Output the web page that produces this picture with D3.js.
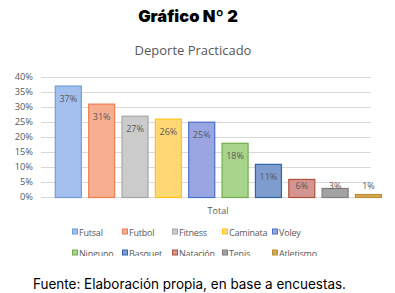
<!DOCTYPE html>
<html><head><meta charset="utf-8">
<script src="https://cdn.jsdelivr.net/npm/d3@7"></script>
<style>html,body{margin:0;padding:0;background:#fff;}svg{display:block;}</style>
</head><body>
<svg id="c" width="395" height="293"></svg>
<script>
const categories = ["Futsal","Futbol","Fitness","Caminata","Voley","Ninguno","Basquet","Natación","Tenis","Atletismo"];
const values = [37,31,27,26,25,18,11,6,3,1];
const fills = ["#a3bfee","#f7ae90","#cbcbcb","#ffd873","#9aa6e2","#a8d48c","#7f9ccf","#d49590","#a3a3a3","#cfa85a"];
const strokes = ["#6d9fdc","#ef7f4f","#a6a6a6","#ffc31a","#4a6fc6","#72ad4c","#2f66a8","#b0523e","#7e7e7e","#bf9030"];
const yTicks = [0,5,10,15,20,25,30,35,40];

const svg = d3.select("#c");
const x = d3.scaleBand().domain(categories).range([51.8, 385]).paddingInner(0.19).paddingOuter(0.09);
const y = d3.scaleLinear().domain([0,40]).range([197,76.5]);

svg.append("text").attr("x",188).attr("y",22).attr("text-anchor","middle")
  .attr("font-family","Inter").attr("font-weight",900).attr("font-size",16.5).attr("fill","#000")
  .text("Gráfico Nº 2");
svg.append("text").attr("x",193).attr("y",55).attr("text-anchor","middle")
  .attr("font-family","Open Sans").attr("font-size",13).attr("fill","#595959")
  .text("Deporte Practicado");

// grid
const g = svg.append("g");
g.selectAll("line.grid").data(yTicks).join("line")
  .attr("x1",41).attr("x2",371).attr("y1",d=>Math.round(y(d))+0.5).attr("y2",d=>Math.round(y(d))+0.5)
  .attr("stroke","#d9d9d9").attr("stroke-width",1);
const ya = svg.append("g").attr("transform","translate(33,0)")
  .call(d3.axisLeft(y).tickValues(yTicks).tickFormat(d=>d+"%").tickSize(0).tickPadding(0));
ya.select(".domain").remove();
ya.selectAll("text").attr("font-family","Open Sans").attr("font-size",9.3).attr("fill","#595959");

// bars
svg.selectAll("rect.bar").data(categories).join("rect")
  .attr("x",d=>x(d)+0.5).attr("width",x.bandwidth()-1)
  .attr("y",(d,i)=>y(values[i])+0.5).attr("height",(d,i)=>y(0)-y(values[i]))
  .attr("fill",(d,i)=>fills[i]).attr("stroke",(d,i)=>strokes[i]).attr("stroke-width",1.2);
svg.selectAll("text.lab").data(categories).join("text")
  .attr("x",d=>x(d)+x.bandwidth()/2)
  .attr("y",(d,i)=>Math.min(y(values[i])+13,186)+3.2)
  .attr("text-anchor","middle").attr("font-family","Open Sans").attr("font-size",9).attr("fill","#595959")
  .text((d,i)=>values[i]+"%");

svg.append("text").attr("x",218).attr("y",214).attr("text-anchor","middle")
  .attr("font-family","Open Sans").attr("font-size",9).attr("fill","#595959").text("Total");

// legend
svg.append("clipPath").attr("id","lc").append("rect").attr("x",0).attr("y",220).attr("width",395).attr("height",36);
const lg = svg.append("g").attr("clip-path","url(#lc)");
const items = lg.selectAll("g").data(categories).join("g")
  .attr("transform",(d,i)=>`translate(${72 + (i%5)*50},${i<5?232:253})`);
items.append("rect").attr("x",0.5).attr("y",-3).attr("width",5).attr("height",5)
  .attr("fill",(d,i)=>fills[i]).attr("stroke",(d,i)=>strokes[i]).attr("stroke-width",1);
items.append("text").attr("x",7).attr("y",3.5).attr("font-family","Open Sans").attr("font-size",9)
  .attr("fill","#595959").attr("letter-spacing",-0.2).text(d=>d);

svg.append("text").attr("x",33).attr("y",289)
  .attr("font-family","Inter").attr("font-size",14).attr("fill","#000")
  .attr("textLength",313).attr("lengthAdjust","spacingAndGlyphs")
  .text("Fuente: Elaboración propia, en base a encuestas.");
</script>
</body></html>
